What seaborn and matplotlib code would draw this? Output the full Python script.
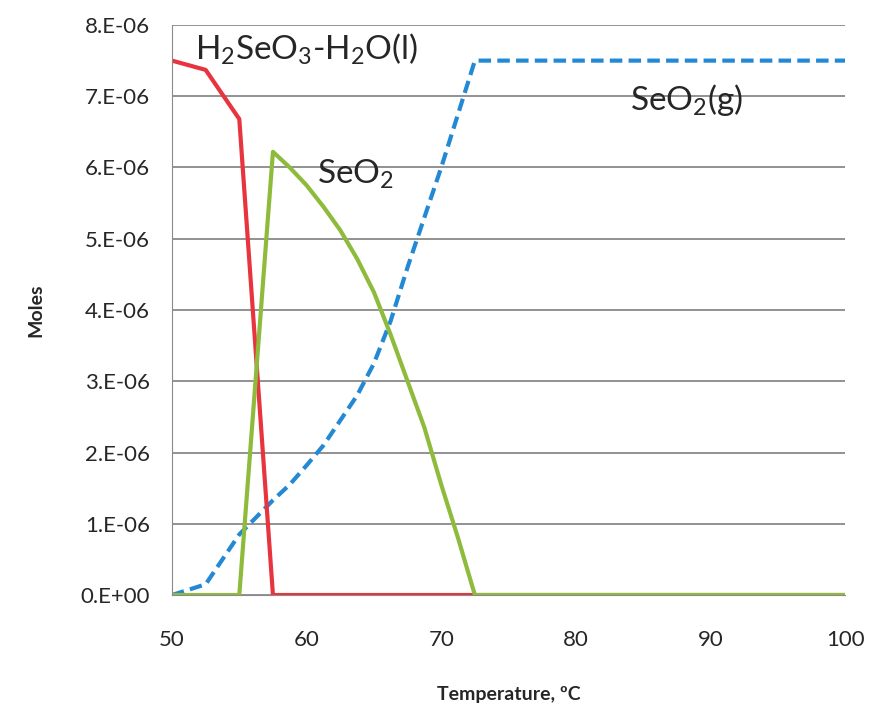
import matplotlib
matplotlib.use('Agg')
import matplotlib.pyplot as plt
import seaborn as sns
import pandas as pd
from matplotlib.ticker import FuncFormatter, MultipleLocator

# Datos (moles vs temperatura)
temp = [50, 52.5, 55, 57.5, 58.75, 60, 61.25, 62.5, 63.75, 65, 66.25, 67.5, 68.75, 70, 71.25,
        72.5, 75, 80, 85, 90, 95, 100]
h2seo3 = [7.5e-6, 7.37e-6, 6.68e-6, 0, 0, 0, 0, 0, 0, 0, 0, 0, 0, 0, 0,
          0, 0, 0, 0, 0, 0, 0]
seo2 = [0, 0, 0, 6.22e-6, 6.0e-6, 5.75e-6, 5.45e-6, 5.12e-6, 4.72e-6, 4.25e-6, 3.65e-6, 3.0e-6,
        2.35e-6, 1.55e-6, 0.8e-6, 0, 0, 0, 0, 0, 0, 0]
seo2_g = [0, 0.15e-6, 0.85e-6, 1.33e-6, 1.55e-6, 1.82e-6, 2.1e-6, 2.45e-6, 2.8e-6, 3.25e-6,
          3.85e-6, 4.6e-6, 5.3e-6, 6.0e-6, 6.75e-6, 7.5e-6,
          7.5e-6, 7.5e-6, 7.5e-6, 7.5e-6, 7.5e-6, 7.5e-6]

df = pd.DataFrame({'temp': temp, 'h2seo3': h2seo3, 'seo2': seo2, 'seo2_g': seo2_g})

sns.set_style('white')
plt.rcParams['font.family'] = ['Lato', 'DejaVu Sans']
plt.rcParams['mathtext.fontset'] = 'custom'
plt.rcParams['mathtext.rm'] = 'Lato'
plt.rcParams['mathtext.it'] = 'Lato'

fig = plt.figure(figsize=(8.73, 7.12), dpi=100)
ax = fig.add_axes([0.197, 0.1643, 0.771, 0.8006])

# lineas (orden: azul, rojo, verde encima)
sns.lineplot(data=df, x='temp', y='seo2_g', ax=ax, color='#2489d4', lw=3, linestyle=(0, (3, 1.5)))
sns.lineplot(data=df, x='temp', y='h2seo3', ax=ax, color='#e8343f', lw=3)
sns.lineplot(data=df, x='temp', y='seo2', ax=ax, color='#8fbb3c', lw=3)

ax.set_xlim(50, 100)
ax.set_ylim(0, 8e-6)
ax.yaxis.set_major_locator(MultipleLocator(1e-6))
ax.xaxis.set_major_locator(MultipleLocator(10))
ax.xaxis.set_minor_locator(MultipleLocator(2))

def fmt_y(v, pos):
    if abs(v) < 1e-12:
        return '0.E+00'
    return f'{v / 1e-6:.0f}.E-06'

ax.yaxis.set_major_formatter(FuncFormatter(fmt_y))
ax.grid(axis='y', color='#7f7f7f', lw=1.2)
ax.set_axisbelow(True)

for s in ['top', 'right']:
    ax.spines[s].set_visible(False)
ax.spines['left'].set_color('#8a8a8a')
ax.spines['bottom'].set_color('#8a8a8a')
ax.tick_params(axis='y', which='major', direction='out', length=6, color='#8a8a8a', labelsize=16, pad=10)
ax.tick_params(axis='x', which='major', direction='inout', length=10, color='#8a8a8a', labelsize=16, pad=20)
ax.tick_params(axis='x', which='minor', direction='in', length=5, color='#8a8a8a')

ax.set_xlabel('Temperature, ºC', fontsize=14, fontweight='bold', labelpad=26)
ax.set_ylabel('Moles', fontsize=14, fontweight='bold', labelpad=26)

ax.text(51.7, 7.65e-6, r'H$_2$SeO$_3$-H$_2$O(l)', fontsize=24, va='center')
ax.text(60.8, 5.9e-6, r'SeO$_2$', fontsize=24, va='center')
ax.text(84.0, 6.95e-6, r'SeO$_2$(g)', fontsize=24, va='center')

plt.savefig('out.png', dpi=100)
